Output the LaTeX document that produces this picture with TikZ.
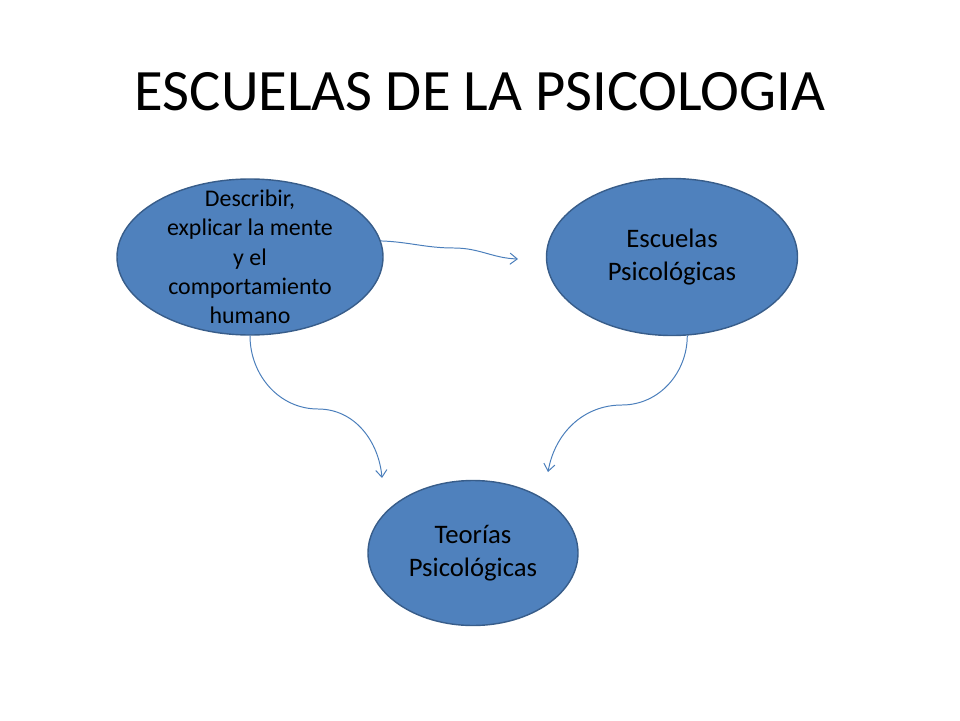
\documentclass[tikz,border=0pt]{standalone}
\usepackage{fontspec}
\setmainfont{Carlito}
\usepackage{tikz}
\usetikzlibrary{shapes.geometric, arrows.meta}
\definecolor{relleno}{HTML}{4F81BD}
\definecolor{borde}{HTML}{385D8A}
\definecolor{linea}{HTML}{4A7EBB}
\tikzset{
    burbuja/.style = {ellipse, draw = borde, fill = relleno, line width = 1pt, inner sep = 0pt},
    texto/.style = {align = center, text = black, font = \fontsize{19}{23}\selectfont},
    textochico/.style = {align = center, text = black, font = \fontsize{17}{20.8}\selectfont},
    flecha/.style = {draw = linea, line width = 0.7pt, -{Straight Barb[length = 1.8mm, width = 2.8mm]}},
}

\begin{document}
\begin{tikzpicture}
\useasboundingbox (0,0) rectangle (24,18);
\node[font = \fontsize{41.7}{50}\selectfont] (titulo) at (12,15.7) {ESCUELAS DE LA PSICOLOGIA};
\node[burbuja, minimum width = 6.65cm, minimum height = 3.9cm,
    label = {[textochico]center:{Describir,\\explicar la mente\\y el\\comportamiento\\humano}}] (desc) at (6.25,11.575) {};
\node[burbuja, minimum width = 6.275cm, minimum height = 3.925cm,
    label = {[texto]center:{Escuelas\\Psicológicas}}] (escuelas) at (16.8,11.575) {};
\node[burbuja, minimum width = 5.25cm, minimum height = 3.625cm,
    label = {[texto]center:{Teorías\\Psicológicas}}] (teorias) at (11.825,4.175) {};
% puntas libres de las flechas
\coordinate (f1) at (12.95,11.525);
\coordinate (f2) at (9.55,6.05);
\coordinate (f3) at (13.7,6.2);
\draw[flecha] (desc.7) to[out = -2, in = 180] (11.35,11.8) to[out = 0, in = 178] (f1);
\draw[flecha] (desc.south) to[out = -90, in = 180] (7.95,7.775) to[out = 0, in = 95] (f2);
\draw[flecha] (escuelas.-79) to[out = -90, in = 0] (15.55,7.875) to[out = 180, in = 80] (f3);
\end{tikzpicture}
\end{document}
